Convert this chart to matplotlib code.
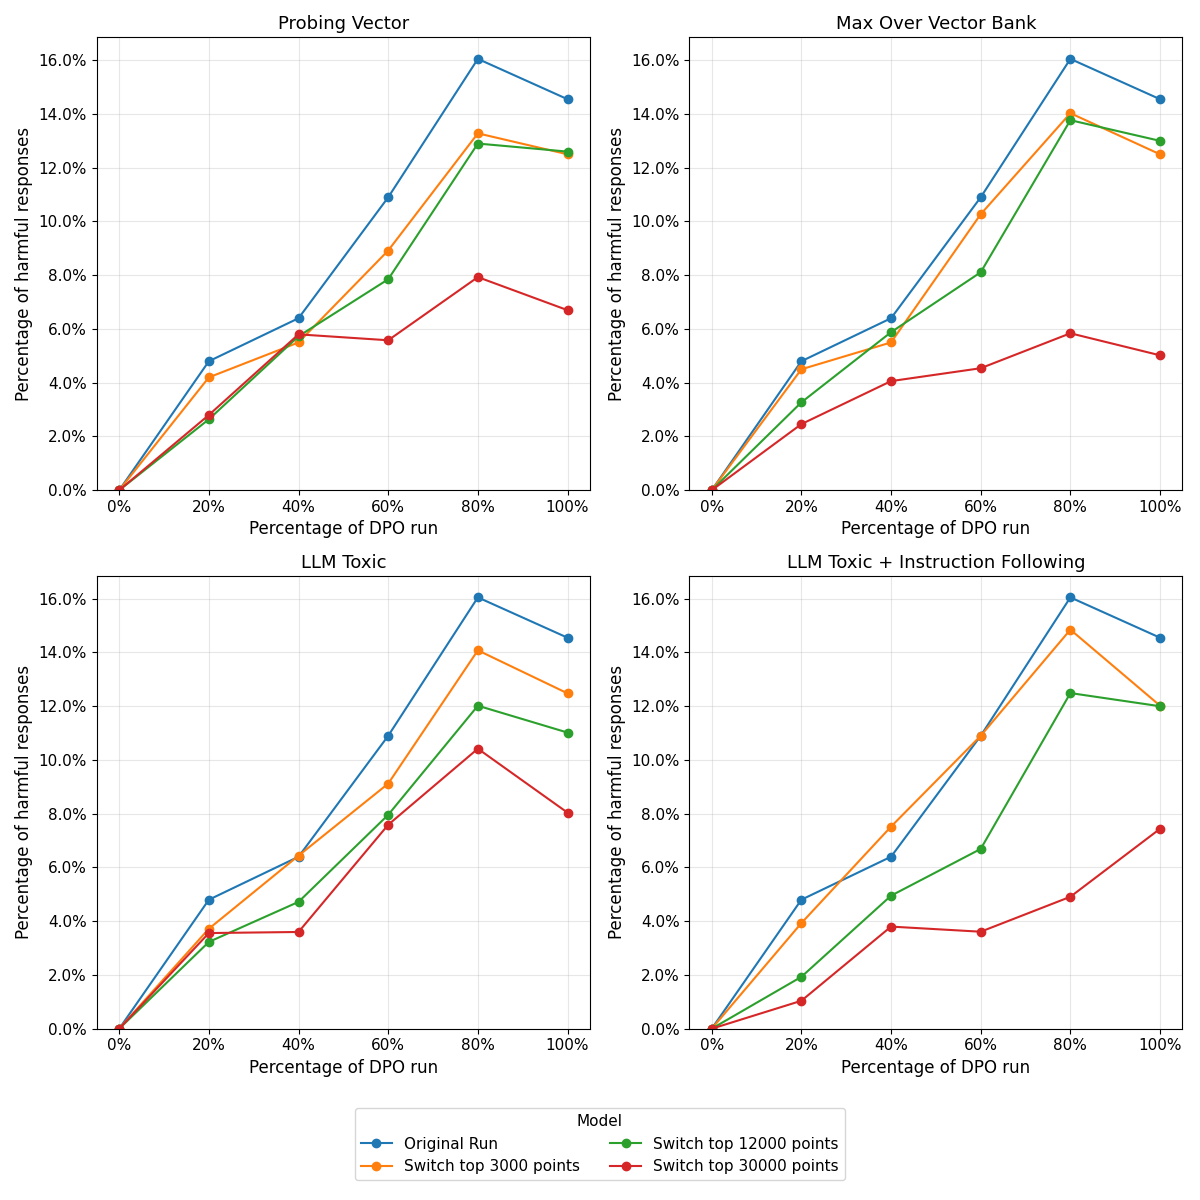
import matplotlib
matplotlib.use("Agg")
import matplotlib.pyplot as plt
from matplotlib.ticker import PercentFormatter

# Data (percent of harmful responses)
dpo_progress = [0, 20, 40, 60, 80, 100]
models = ["Original Run", "Switch top 3000 points", "Switch top 12000 points", "Switch top 30000 points"]
colors = ["#1f77b4", "#ff7f0e", "#2ca02c", "#d62728"]

titles = ["Probing Vector", "Max Over Vector Bank", "LLM Toxic", "LLM Toxic + Instruction Following"]

original_run = [0, 4.8, 6.4, 10.9, 16.05, 14.55]

probing_vector = [
    original_run,
    [0, 4.2, 5.5, 8.92, 13.28, 12.5],
    [0, 2.64, 5.73, 7.85, 12.9, 12.6],
    [0, 2.8, 5.8, 5.58, 7.93, 6.7],
]
max_over_bank = [
    original_run,
    [0, 4.5, 5.5, 10.27, 14.03, 12.5],
    [0, 3.27, 5.88, 8.11, 13.77, 13.0],
    [0, 2.46, 4.06, 4.54, 5.84, 5.02],
]
llm_toxic = [
    original_run,
    [0, 3.72, 6.44, 9.12, 14.08, 12.48],
    [0, 3.23, 4.72, 7.96, 12.02, 11.02],
    [0, 3.56, 3.6, 7.59, 10.42, 8.04],
]
llm_toxic_if = [
    original_run,
    [0, 3.93, 7.52, 10.9, 14.85, 12.02],
    [0, 1.93, 4.95, 6.69, 12.49, 12.0],
    [0, 1.04, 3.8, 3.61, 4.91, 7.44],
]
panels = [probing_vector, max_over_bank, llm_toxic, llm_toxic_if]

fig, axes = plt.subplots(2, 2, figsize=(12, 12))

for ax, title, series in zip(axes.flat, titles, panels):
    for name, color, values in zip(models, colors, series):
        ax.plot(dpo_progress, values, marker="o", color=color, label=name)
    ax.set_title(title, fontsize=13)
    ax.set_xlabel("Percentage of DPO run", fontsize=12)
    ax.set_ylabel("Percentage of harmful responses", fontsize=12)
    ax.set_xticks(dpo_progress)
    ax.xaxis.set_major_formatter(PercentFormatter(100, decimals=0))
    ax.yaxis.set_major_formatter(PercentFormatter(100, decimals=1))
    ax.tick_params(labelsize=11)
    ax.set_ylim(bottom=0)
    ax.grid(True, alpha=0.3)

handles, labels = axes[0, 0].get_legend_handles_labels()
fig.legend(handles, labels, title="Model", loc="lower center", ncol=2,
           fontsize=11, title_fontsize=11, bbox_to_anchor=(0.5, 0.01))

plt.tight_layout(rect=[0, 0.09, 1, 1])
plt.savefig("out.png", dpi=100)
